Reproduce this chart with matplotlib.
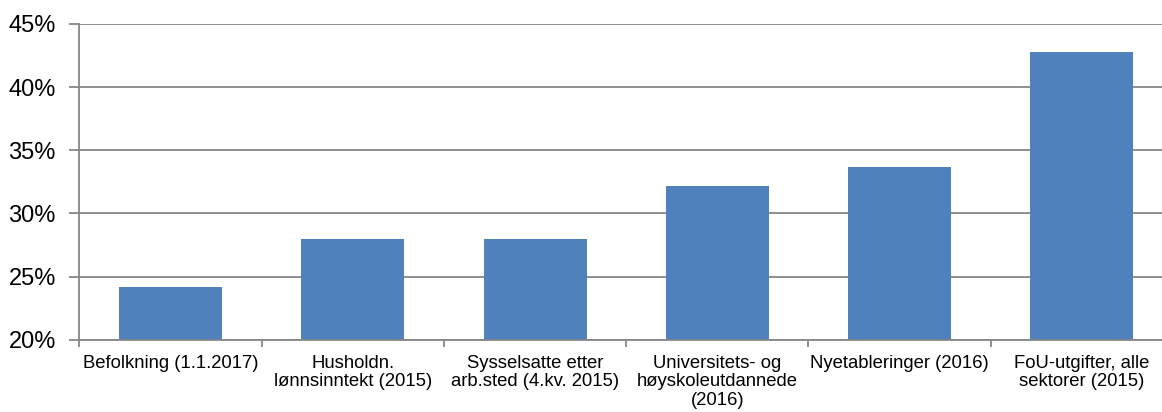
import numpy as np
import matplotlib
matplotlib.use("Agg")
import matplotlib.pyplot as plt
from matplotlib.ticker import FuncFormatter

plt.rcParams["font.family"] = ["Liberation Sans", "DejaVu Sans"]

categories = [
    "Befolkning (1.1.2017)",
    "Husholdn.\nlønnsinntekt (2015)",
    "Sysselsatte etter\narb.sted (4.kv. 2015)",
    "Universitets- og\nhøyskoleutdannede\n(2016)",
    "Nyetableringer (2016)",
    "FoU-utgifter, alle\nsektorer (2015)",
]
values = [24.2, 28.0, 28.0, 32.2, 33.7, 42.8]

grid_color = "#868686"

fig = plt.figure(figsize=(11.62, 4.12), dpi=100)
# plot area runs a little past the right edge, as in the source image
ax = fig.add_axes([0.0683, 0.175, 0.9412, 0.767])

x = np.arange(len(categories))
ax.bar(x, values, width=0.565, color="#4F81BD", zorder=3)

ax.set_xlim(-0.5, len(categories) - 0.5)
ax.set_ylim(20, 45)
ax.set_yticks(np.arange(20, 46, 5))
ax.yaxis.set_major_formatter(FuncFormatter(lambda v, p: f"{v:.0f}%"))
ax.grid(axis="y", color=grid_color, linewidth=1.3, zorder=0)

# category labels on minor ticks, tick marks between categories
ax.set_xticks(np.arange(-0.5, len(categories), 1))
ax.set_xticklabels([])
ax.set_xticks(x, minor=True)
ax.set_xticklabels(categories, minor=True, fontsize=13.3, linespacing=1.1)
ax.tick_params(axis="x", which="minor", length=0, pad=11)
ax.tick_params(axis="x", which="major", length=5, color=grid_color, width=1.3)
ax.tick_params(axis="y", length=7, color=grid_color, width=1.3, labelsize=17, pad=10)

for side in ["top", "right"]:
    ax.spines[side].set_visible(False)
for side in ["left", "bottom"]:
    ax.spines[side].set_color(grid_color)
    ax.spines[side].set_linewidth(1.3)
    ax.spines[side].set_zorder(4)

fig.savefig("out.png", dpi=100)
